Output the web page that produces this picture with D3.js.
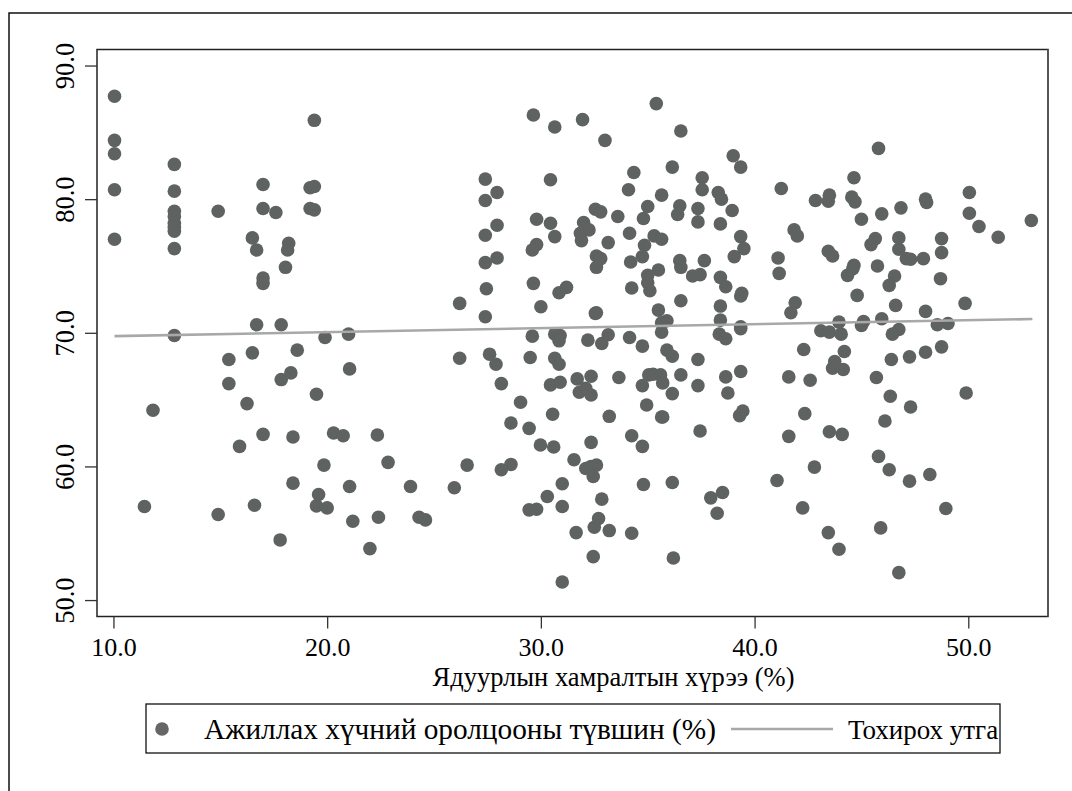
<!DOCTYPE html>
<html>
<head>
<meta charset="utf-8">
<script src="https://cdn.jsdelivr.net/npm/d3@7"></script>
<style>
body { margin: 0; background: #fff; }
text { font-family: "Liberation Serif", serif; fill: #000; }
</style>
</head>
<body>
<svg></svg>
<script>
const xTicks = [10, 20, 30, 40, 50]
const yTicks = [50, 60, 70, 80, 90]
const xTitle = 'Ядуурлын хамралтын хүрээ (%)'
const pointLabel = 'Ажиллах хүчний оролцооны түвшин (%)'
const lineLabel = 'Тохирох утга'

const povertyRate = [
  10.05,10.05,10.05,10.05,10.05,12.85,12.85,12.85,12.85,12.85,
  12.85,12.85,12.85,12.85,14.9,17.0,17.0,17.6,16.5,16.7,
  18.2,18.15,18.05,17.0,17.0,16.7,17.85,19.2,19.4,19.2,
  19.4,19.4,11.45,11.85,14.9,15.4,15.4,16.25,15.9,16.5,
  17.0,16.6,17.85,18.3,18.6,18.4,18.4,17.8,19.5,19.9,
  21.0,21.05,20.3,20.75,19.85,19.6,19.5,20.0,21.05,21.2,
  22.35,22.85,22.4,22.0,23.9,24.3,24.6,25.95,26.55,26.2,
  26.2,27.6,27.9,28.15,29.05,28.6,29.45,29.98,28.6,28.15,
  29.45,29.8,27.4,27.95,27.4,27.95,27.4,27.95,27.4,27.45,
  27.4,29.65,29.8,29.8,29.6,29.65,30.0,29.6,29.5,30.65,
  31.95,33.0,35.4,36.55,39.0,39.35,45.8,44.65,36.15,34.35,
  37.55,37.55,34.1,30.45,35.65,38.3,38.45,35.0,36.5,36.4,
  37.35,37.35,38.95,38.4,30.45,30.65,32.55,32.8,33.6,34.8,
  32.0,32.25,31.85,31.9,33.15,34.15,35.3,35.65,34.85,34.75,
  32.6,32.8,32.6,34.2,36.5,36.55,37.65,35.5,35.0,35.0,
  35.1,34.25,37.1,37.45,38.4,38.65,39.4,39.35,36.55,38.4,
  35.5,38.4,35.9,35.65,35.65,39.35,39.35,38.35,34.15,33.15,
  32.2,30.9,30.65,31.2,30.85,32.55,32.6,41.25,42.85,43.45,
  43.5,44.55,44.7,45.0,45.95,46.85,48.0,48.05,50.05,50.05,
  50.5,51.4,52.95,41.85,42.0,43.45,43.65,45.65,45.45,46.75,
  46.75,47.1,47.3,47.9,48.75,48.75,41.1,41.15,44.65,44.6,
  44.35,45.75,46.55,46.3,48.7,44.8,41.9,41.7,46.6,48.0,
  49.85,43.95,45.1,45.0,45.95,48.55,49.05,43.1,43.5,44.05,
  46.75,46.45,39.35,39.5,39.05,30.85,32.85,34.75,35.9,36.15,
  37.35,38.65,42.3,44.2,43.75,43.65,44.15,46.4,47.25,48.0,
  48.75,30.65,30.85,31.7,32.35,30.45,30.9,31.8,32.35,32.1,
  33.65,35.05,35.25,35.6,34.75,35.7,36.55,37.35,36.15,38.65,
  39.35,38.75,41.6,42.6,45.7,46.35,47.3,49.9,34.95,33.2,
  30.55,35.7,35.65,39.45,39.3,42.35,37.45,34.25,34.75,43.5,
  44.1,41.6,46.1,32.35,30.6,31.55,32.6,32.35,32.1,32.45,
  45.8,46.3,47.25,48.2,42.8,41.05,31.0,34.8,36.15,38.5,
  37.95,30.3,31.0,32.85,42.25,48.95,38.25,32.7,32.5,33.2,
  34.25,31.65,43.45,45.9,43.95,32.45,36.2,31.0,46.75
]

const laborRate = [
  87.7,84.4,83.4,80.7,77.0,82.6,80.6,79.1,78.7,78.2,
  77.9,77.6,76.3,69.8,79.1,81.1,79.3,79.0,77.1,76.2,
  76.7,76.2,74.9,74.1,73.7,70.6,70.6,80.85,80.95,79.3,
  79.2,85.9,57.0,64.2,56.4,68.0,66.2,64.7,61.5,68.5,
  62.4,57.1,66.5,67.0,68.7,62.2,58.75,54.5,65.4,69.65,
  69.9,67.3,62.5,62.3,60.1,57.9,57.05,56.9,58.5,55.9,
  62.35,60.3,56.2,53.85,58.5,56.2,56.0,58.4,60.1,68.1,
  72.2,68.4,67.65,66.2,64.8,63.25,62.85,61.6,60.15,59.75,
  56.75,56.8,81.5,80.5,79.9,78.05,77.3,75.6,75.25,73.3,
  71.2,86.3,78.5,76.6,76.2,73.7,71.95,69.75,68.15,85.4,
  85.95,84.4,87.15,85.1,83.25,82.4,83.8,81.6,82.4,82.0,
  81.6,80.7,80.7,81.45,80.3,80.5,80.0,79.45,79.5,78.85,
  79.3,78.3,79.15,78.15,78.2,77.2,79.25,79.05,78.7,78.55,
  78.25,77.7,77.45,76.9,76.75,77.45,77.25,77.0,76.55,75.7,
  75.75,75.55,74.9,75.3,75.4,74.9,75.4,74.7,74.3,73.75,
  73.15,73.35,74.25,74.35,74.15,73.45,72.95,72.75,72.4,72.0,
  71.7,70.95,70.9,70.75,70.05,70.45,70.3,69.9,69.65,69.85,
  69.45,69.8,69.9,73.4,73.0,71.45,71.5,80.8,79.9,79.85,
  80.3,80.15,79.8,78.5,78.9,79.35,80.0,79.75,80.5,78.95,
  77.95,77.15,78.4,77.7,77.25,76.1,75.75,77.05,76.6,77.1,
  76.25,75.55,75.5,75.55,77.05,76.0,75.6,74.45,75.05,74.8,
  74.3,75.0,74.25,73.55,74.05,72.8,72.25,71.5,72.05,71.6,
  72.2,70.8,70.85,70.55,71.05,70.6,70.7,70.15,70.05,69.9,
  70.25,69.9,77.2,76.3,75.7,69.4,69.2,69.0,68.7,68.25,
  68.0,69.55,68.75,68.6,67.85,67.35,67.25,68.0,68.2,68.55,
  68.95,68.1,67.65,66.55,66.75,66.1,66.3,65.55,65.35,65.85,
  66.65,66.85,66.9,66.85,66.05,66.25,66.85,66.05,65.45,66.7,
  67.1,65.5,66.7,66.45,66.65,65.25,64.45,65.5,64.6,63.75,
  63.9,63.7,63.7,64.15,63.8,63.95,62.65,62.3,61.5,62.6,
  62.4,62.25,63.4,61.8,61.45,60.5,60.1,60.0,59.85,59.25,
  60.75,59.75,58.9,59.4,59.95,58.95,58.7,58.65,58.8,58.05,
  57.65,57.75,57.0,57.55,56.9,56.85,56.5,56.1,55.45,55.2,
  55.0,55.05,55.05,55.4,53.8,53.25,53.15,51.35,52.05
]

const fitX = [10.05, 53.0]
const fitY = [69.75, 71.03]

const svgWidth = 1072
const svgHeight = 791
const plot = { left: 97, right: 1048, top: 49.5, bottom: 616.5 }
const pointColor = '#5e6261'
const lineColor = '#a8a8a8'

const svg = d3.select('svg')
  .attr('width', svgWidth)
  .attr('height', svgHeight)
  .style('display', 'block')

const xScale = d3.scaleLinear()
  .domain([9.23, 53.73])
  .range([plot.left, plot.right])

const yScale = d3.scaleLinear()
  .domain([48.77, 91.2])
  .range([plot.bottom, plot.top])

// outer frame, only top and left show in the picture
svg.append('path')
  .attr('d', `M9,${svgHeight}V13H${svgWidth}`)
  .attr('fill', 'none')
  .attr('stroke', '#111')
  .attr('stroke-width', 1.5)

svg.append('rect')
  .attr('x', plot.left)
  .attr('y', plot.top)
  .attr('width', plot.right - plot.left)
  .attr('height', plot.bottom - plot.top)
  .attr('fill', '#fff')
  .attr('stroke', '#222')
  .attr('stroke-width', 1.5)

// right edge of the plot is greyer and a bit heavier
svg.append('line')
  .attr('x1', plot.right)
  .attr('x2', plot.right)
  .attr('y1', plot.top)
  .attr('y2', plot.bottom)
  .attr('stroke', '#555')
  .attr('stroke-width', 2)

const xAxis = d3.axisBottom(xScale)
  .tickValues(xTicks)
  .tickFormat(d3.format('.1f'))
  .tickSize(12)
  .tickSizeOuter(0)
const gx = svg.append('g')
  .attr('transform', `translate(0,${plot.bottom})`)
  .call(xAxis)
gx.select('.domain').remove()
gx.selectAll('text').attr('dy', null).attr('y', 39.5).style('font-size', '26px')

const yAxis = d3.axisLeft(yScale)
  .tickValues(yTicks)
  .tickFormat(d3.format('.1f'))
  .tickSize(12)
  .tickSizeOuter(0)
const gy = svg.append('g')
  .attr('transform', `translate(${plot.left},0)`)
  .call(yAxis)
gy.select('.domain').remove()
gy.selectAll('text')
  .attr('x', null)
  .attr('dy', null)
  .attr('text-anchor', 'middle')
  .attr('transform', 'translate(-23,0) rotate(-90)')
  .style('font-size', '26.5px')
svg.selectAll('.tick line').attr('stroke', '#333').attr('stroke-width', 1.3)

svg.selectAll('circle.dot')
  .data(povertyRate)
  .enter()
  .append('circle')
  .attr('class', 'dot')
  .attr('r', 6.8)
  .attr('cx', d => xScale(d))
  .attr('cy', (d, i) => yScale(laborRate[i]))
  .attr('fill', pointColor)

svg.append('path')
  .datum(fitX)
  .attr('d', d3.line().x(d => xScale(d)).y((d, i) => yScale(fitY[i])))
  .attr('fill', 'none')
  .attr('stroke', lineColor)
  .attr('stroke-width', 2.6)

svg.append('text')
  .attr('x', 613.5)
  .attr('y', 685.5)
  .attr('text-anchor', 'middle')
  .style('font-size', '26.5px')
  .text(xTitle)

// legend
const legend = svg.append('g')
legend.append('rect')
  .attr('x', 146)
  .attr('y', 704)
  .attr('width', 854)
  .attr('height', 49)
  .attr('fill', '#fff')
  .attr('stroke', '#111')
  .attr('stroke-width', 1.3)
legend.append('circle')
  .attr('cx', 162)
  .attr('cy', 729)
  .attr('r', 6.8)
  .attr('fill', '#666')
legend.append('text')
  .attr('x', 204)
  .attr('y', 739)
  .style('font-size', '29.3px')
  .text(pointLabel)
legend.append('line')
  .attr('x1', 731)
  .attr('x2', 833)
  .attr('y1', 729)
  .attr('y2', 729)
  .attr('stroke', lineColor)
  .attr('stroke-width', 2.6)
legend.append('text')
  .attr('x', 848)
  .attr('y', 739)
  .style('font-size', '27px')
  .text(lineLabel)
</script>
</body>
</html>
